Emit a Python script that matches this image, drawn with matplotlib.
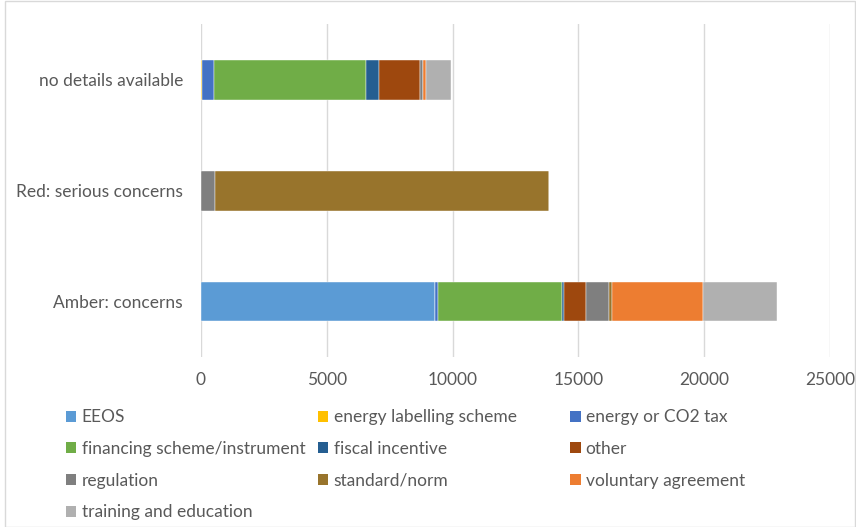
import matplotlib.pyplot as plt
from matplotlib.patches import Patch, Rectangle

# -------------------------------
# Data
# -------------------------------
categories = ["Amber: concerns", "Red: serious concerns", "no details available"]
series = ["EEOS", "energy labelling scheme", "energy or CO2 tax",
          "financing scheme/instrument", "fiscal incentive", "other",
          "regulation", "standard/norm", "voluntary agreement",
          "training and education"]

eeos = [9285, 0, 0]
labelling = [0, 0, 40]
co2_tax = [150, 0, 480]
financing = [4920, 0, 6030]
fiscal = [60, 0, 520]
other = [885, 0, 1640]
regulation = [930, 570, 120]
standard = [105, 13250, 0]
voluntary = [3635, 0, 120]
training = [2915, 0, 970]

values = [eeos, labelling, co2_tax, financing, fiscal, other,
          regulation, standard, voluntary, training]
colors = ["#5B9BD5", "#FFC000", "#4472C4", "#70AD47", "#255E91", "#9E480E",
          "#7F7F7F", "#98742C", "#ED7D31", "#B0B0B0"]

xticks = [0, 5000, 10000, 15000, 20000, 25000]

# -------------------------------
# Chart
# -------------------------------
plt.rcParams["font.family"] = ["Lato", "DejaVu Sans"]
text_color = "#595959"

fig = plt.figure(figsize=(8.56, 5.27), dpi=100)
ax = fig.add_axes([0.2348, 0.3226, 0.7348, 0.6314])

left = [0, 0, 0]
for name, vals, col in zip(series, values, colors):
    ax.barh(categories, vals, left=left, height=0.36, color=col,
            edgecolor="white", linewidth=0.3, label=name, zorder=3)
    left = [a + b for a, b in zip(left, vals)]

ax.set_xlim(0, 25000)
ax.set_ylim(-0.5, 2.5)
ax.set_xticks(xticks)
ax.set_xticklabels([str(t) for t in xticks])
ax.grid(axis="x", color="#D9D9D9", linewidth=1, zorder=0)
for s in ax.spines.values():
    s.set_visible(False)
ax.tick_params(axis="both", length=0, labelsize=12.5, colors=text_color)
ax.tick_params(axis="y", pad=13)
ax.tick_params(axis="x", pad=11)

# legend, three fixed-width columns filled row by row
handles = [Patch(facecolor=c, edgecolor="none") for c in colors]
col_x = [0.077, 0.3715, 0.666]
for i, x in enumerate(col_x):
    idx = list(range(i, len(series), 3))
    fig.legend([handles[j] for j in idx], [series[j] for j in idx],
               loc="upper left", bbox_to_anchor=(x, 0.223), frameon=False,
               fontsize=12.5, labelcolor=text_color, handlelength=0.6,
               handleheight=0.6, handletextpad=0.3, labelspacing=0.9,
               borderaxespad=0, borderpad=0)

# light chart border
fig.patches.append(Rectangle((0.006, 0.0), 0.993, 0.999, transform=fig.transFigure,
                             fill=False, edgecolor="#D9D9D9", linewidth=1))

plt.savefig("out.png", dpi=100)
